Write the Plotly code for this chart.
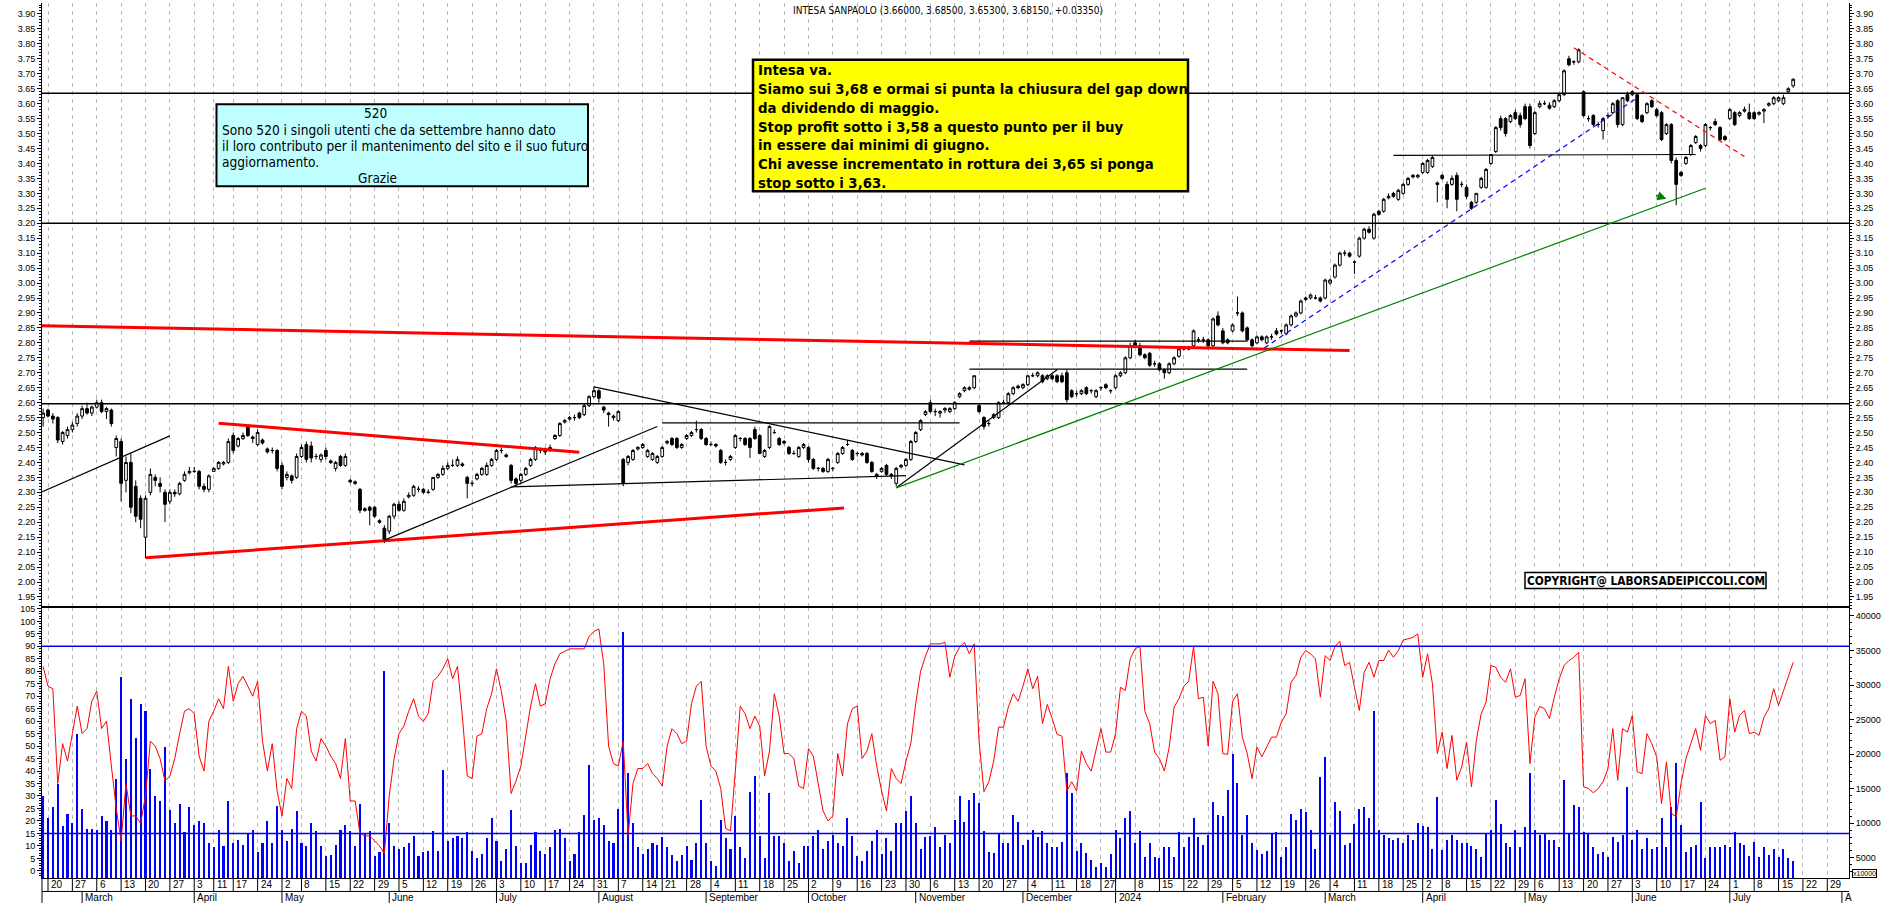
import pandas as pd
import plotly.graph_objects as go

TITLE = "INTESA SANPAOLO (3.66000, 3.68500, 3.65300, 3.68150, +0.03350)"

holidays = ["2023-04-07", "2023-04-10", "2023-05-01", "2023-08-15", "2023-12-25",
            "2023-12-26", "2024-01-01", "2024-03-29", "2024-04-01", "2024-05-01"]
sessions = [d for d in pd.bdate_range("2023-02-17", "2024-08-02")
            if d.strftime("%Y-%m-%d") not in holidays]

opens = [
    2.55, 2.575, 2.555, 2.55, 2.47, 2.49, 2.51, 2.53, 2.555, 2.58,
    2.565, 2.585, 2.60, 2.57, 2.575, 2.45, 2.47, 2.34, 2.40, 2.32,
    2.28, 2.15, 2.30, 2.35, 2.33, 2.30, 2.27, 2.30, 2.295, 2.34,
    2.365, 2.37, 2.37, 2.32, 2.31, 2.37, 2.38, 2.395, 2.40, 2.49,
    2.455, 2.48, 2.52, 2.485, 2.46, 2.475, 2.445, 2.44, 2.44, 2.39,
    2.35, 2.355, 2.35, 2.42, 2.46, 2.455, 2.42, 2.41, 2.44, 2.405,
    2.38, 2.42, 2.39, 2.34, 2.335, 2.31, 2.245, 2.25, 2.25, 2.205,
    2.18, 2.17, 2.22, 2.26, 2.24, 2.285, 2.29, 2.31, 2.31, 2.30,
    2.31, 2.35, 2.36, 2.38, 2.39, 2.39, 2.395, 2.35, 2.33, 2.345,
    2.36, 2.36, 2.39, 2.41, 2.44, 2.425, 2.39, 2.345, 2.34, 2.36,
    2.39, 2.41, 2.44, 2.44, 2.44, 2.48, 2.49, 2.535, 2.545, 2.55,
    2.565, 2.56, 2.59, 2.62, 2.64, 2.585, 2.565, 2.555, 2.54, 2.41,
    2.40, 2.41, 2.445, 2.45, 2.42, 2.41, 2.40, 2.42, 2.465, 2.48,
    2.48, 2.45, 2.48, 2.49, 2.51, 2.51, 2.48, 2.46, 2.46, 2.44,
    2.40, 2.41, 2.45, 2.48, 2.48, 2.48, 2.51, 2.49, 2.42, 2.45,
    2.50, 2.48, 2.47, 2.45, 2.43, 2.42, 2.45, 2.45, 2.41, 2.38,
    2.38, 2.37, 2.38, 2.40, 2.43, 2.46, 2.44, 2.43, 2.43, 2.43,
    2.40, 2.36, 2.37, 2.39, 2.36, 2.33, 2.385, 2.39, 2.41, 2.47,
    2.51, 2.56, 2.60, 2.57, 2.565, 2.575, 2.57, 2.58, 2.62, 2.64,
    2.645, 2.65, 2.59, 2.55, 2.53, 2.55, 2.55, 2.60, 2.60, 2.63,
    2.655, 2.65, 2.66, 2.69, 2.69, 2.69, 2.68, 2.69, 2.69, 2.69,
    2.70, 2.64, 2.63, 2.63, 2.65, 2.64, 2.62, 2.65, 2.66, 2.64,
    2.65, 2.69, 2.70, 2.75, 2.80, 2.79, 2.76, 2.765, 2.73, 2.73,
    2.71, 2.70, 2.73, 2.755, 2.78, 2.78, 2.79, 2.81, 2.81, 2.81,
    2.79, 2.89, 2.84, 2.81, 2.84, 2.90, 2.90, 2.85, 2.81, 2.80,
    2.82, 2.80, 2.82, 2.84, 2.84, 2.83, 2.86, 2.89, 2.90, 2.945,
    2.95, 2.95, 2.95, 2.95, 3.00, 3.02, 3.06, 3.10, 3.10, 3.07,
    3.09, 3.15, 3.18, 3.15, 3.24, 3.24, 3.285, 3.30, 3.28, 3.30,
    3.33, 3.36, 3.355, 3.37, 3.37, 3.39, 3.335, 3.36, 3.33, 3.33,
    3.36, 3.33, 3.32, 3.27, 3.27, 3.32, 3.32, 3.40, 3.44, 3.55,
    3.55, 3.54, 3.57, 3.56, 3.59, 3.59, 3.50, 3.59, 3.60, 3.595,
    3.59, 3.61, 3.63, 3.75, 3.74, 3.74, 3.64, 3.55, 3.56, 3.53,
    3.51, 3.56, 3.57, 3.61, 3.53, 3.63, 3.63, 3.63, 3.56, 3.57,
    3.61, 3.58, 3.57, 3.50, 3.53, 3.41, 3.37, 3.40, 3.43, 3.47,
    3.46, 3.46, 3.52, 3.54, 3.52, 3.49, 3.55, 3.57, 3.56, 3.575,
    3.57, 3.57, 3.565, 3.575, 3.595, 3.60, 3.61, 3.60, 3.64, 3.66,
]
highs = [
    2.58, 2.58, 2.565, 2.555, 2.505, 2.52, 2.535, 2.565, 2.59, 2.60,
    2.59, 2.61, 2.61, 2.585, 2.58, 2.49, 2.48, 2.42, 2.43, 2.34,
    2.29, 2.29, 2.38, 2.36, 2.35, 2.31, 2.31, 2.31, 2.335, 2.37,
    2.385, 2.385, 2.375, 2.33, 2.36, 2.385, 2.405, 2.405, 2.48, 2.50,
    2.485, 2.50, 2.525, 2.49, 2.51, 2.48, 2.45, 2.45, 2.445, 2.40,
    2.37, 2.36, 2.43, 2.46, 2.47, 2.47, 2.43, 2.43, 2.45, 2.41,
    2.405, 2.425, 2.43, 2.345, 2.34, 2.315, 2.25, 2.255, 2.255, 2.21,
    2.19, 2.225, 2.265, 2.27, 2.28, 2.30, 2.325, 2.32, 2.315, 2.31,
    2.35, 2.365, 2.39, 2.40, 2.41, 2.42, 2.40, 2.355, 2.34, 2.365,
    2.385, 2.40, 2.415, 2.445, 2.45, 2.43, 2.395, 2.35, 2.365, 2.385,
    2.415, 2.455, 2.45, 2.45, 2.46, 2.495, 2.535, 2.545, 2.555, 2.56,
    2.57, 2.595, 2.625, 2.655, 2.645, 2.59, 2.57, 2.56, 2.575, 2.415,
    2.425, 2.445, 2.455, 2.465, 2.445, 2.435, 2.425, 2.455, 2.475, 2.485,
    2.485, 2.465, 2.495, 2.505, 2.54, 2.515, 2.485, 2.47, 2.465, 2.445,
    2.41, 2.425, 2.495, 2.485, 2.485, 2.485, 2.52, 2.495, 2.445, 2.525,
    2.51, 2.485, 2.475, 2.455, 2.44, 2.455, 2.465, 2.455, 2.415, 2.385,
    2.385, 2.415, 2.385, 2.435, 2.455, 2.475, 2.445, 2.435, 2.435, 2.435,
    2.405, 2.365, 2.385, 2.395, 2.365, 2.385, 2.395, 2.415, 2.475, 2.505,
    2.545, 2.575, 2.61, 2.58, 2.575, 2.585, 2.585, 2.605, 2.635, 2.655,
    2.655, 2.69, 2.595, 2.555, 2.54, 2.565, 2.605, 2.61, 2.635, 2.655,
    2.66, 2.665, 2.69, 2.70, 2.705, 2.695, 2.695, 2.695, 2.695, 2.70,
    2.71, 2.645, 2.64, 2.645, 2.655, 2.645, 2.645, 2.655, 2.665, 2.645,
    2.695, 2.705, 2.755, 2.80, 2.81, 2.80, 2.765, 2.77, 2.74, 2.735,
    2.715, 2.735, 2.755, 2.785, 2.79, 2.79, 2.845, 2.82, 2.82, 2.815,
    2.885, 2.905, 2.85, 2.815, 2.865, 2.955, 2.905, 2.855, 2.815, 2.825,
    2.825, 2.825, 2.83, 2.85, 2.845, 2.865, 2.895, 2.905, 2.945, 2.955,
    2.965, 2.96, 2.955, 3.015, 3.015, 3.065, 3.105, 3.11, 3.105, 3.075,
    3.155, 3.185, 3.19, 3.235, 3.245, 3.285, 3.30, 3.305, 3.315, 3.335,
    3.355, 3.365, 3.365, 3.405, 3.415, 3.425, 3.34, 3.365, 3.34, 3.36,
    3.37, 3.34, 3.33, 3.275, 3.30, 3.355, 3.385, 3.43, 3.525, 3.56,
    3.555, 3.565, 3.58, 3.57, 3.60, 3.60, 3.575, 3.61, 3.61, 3.605,
    3.615, 3.635, 3.715, 3.76, 3.745, 3.785, 3.645, 3.56, 3.565, 3.54,
    3.555, 3.57, 3.605, 3.615, 3.62, 3.64, 3.645, 3.635, 3.565, 3.605,
    3.615, 3.585, 3.575, 3.535, 3.535, 3.42, 3.375, 3.425, 3.465, 3.495,
    3.465, 3.535, 3.525, 3.55, 3.525, 3.495, 3.585, 3.575, 3.575, 3.59,
    3.60, 3.575, 3.575, 3.585, 3.605, 3.625, 3.625, 3.63, 3.655, 3.685,
]
lows = [
    2.52, 2.55, 2.53, 2.465, 2.46, 2.48, 2.50, 2.52, 2.545, 2.56,
    2.555, 2.58, 2.565, 2.545, 2.52, 2.42, 2.27, 2.30, 2.23, 2.20,
    2.18, 2.08, 2.29, 2.32, 2.30, 2.20, 2.26, 2.285, 2.29, 2.335,
    2.36, 2.365, 2.31, 2.30, 2.30, 2.37, 2.375, 2.39, 2.395, 2.43,
    2.45, 2.475, 2.485, 2.465, 2.455, 2.46, 2.43, 2.43, 2.37, 2.31,
    2.34, 2.33, 2.345, 2.415, 2.40, 2.40, 2.41, 2.40, 2.41, 2.395,
    2.37, 2.385, 2.385, 2.33, 2.325, 2.23, 2.235, 2.19, 2.215, 2.195,
    2.13, 2.16, 2.21, 2.235, 2.235, 2.28, 2.285, 2.30, 2.295, 2.295,
    2.305, 2.345, 2.355, 2.375, 2.385, 2.385, 2.385, 2.28, 2.32, 2.34,
    2.355, 2.355, 2.385, 2.405, 2.43, 2.415, 2.33, 2.32, 2.33, 2.355,
    2.385, 2.405, 2.43, 2.425, 2.435, 2.475, 2.485, 2.53, 2.54, 2.54,
    2.545, 2.555, 2.585, 2.615, 2.60, 2.565, 2.52, 2.54, 2.535, 2.32,
    2.39, 2.405, 2.44, 2.445, 2.415, 2.405, 2.395, 2.415, 2.46, 2.455,
    2.445, 2.445, 2.475, 2.485, 2.50, 2.475, 2.455, 2.455, 2.45, 2.395,
    2.39, 2.405, 2.445, 2.47, 2.455, 2.415, 2.475, 2.43, 2.415, 2.445,
    2.495, 2.455, 2.46, 2.425, 2.425, 2.415, 2.445, 2.40, 2.375, 2.37,
    2.365, 2.365, 2.37, 2.395, 2.425, 2.455, 2.405, 2.42, 2.42, 2.395,
    2.365, 2.345, 2.365, 2.355, 2.345, 2.32, 2.38, 2.385, 2.405, 2.465,
    2.505, 2.555, 2.565, 2.555, 2.55, 2.565, 2.565, 2.575, 2.615, 2.635,
    2.64, 2.645, 2.565, 2.51, 2.52, 2.545, 2.545, 2.595, 2.595, 2.625,
    2.645, 2.645, 2.655, 2.685, 2.685, 2.665, 2.675, 2.675, 2.665, 2.665,
    2.60, 2.615, 2.62, 2.625, 2.625, 2.63, 2.615, 2.64, 2.645, 2.63,
    2.645, 2.685, 2.695, 2.745, 2.785, 2.755, 2.745, 2.72, 2.72, 2.705,
    2.68, 2.695, 2.725, 2.75, 2.775, 2.775, 2.785, 2.80, 2.80, 2.785,
    2.78, 2.855, 2.795, 2.795, 2.835, 2.89, 2.835, 2.805, 2.785, 2.795,
    2.805, 2.795, 2.81, 2.825, 2.83, 2.825, 2.855, 2.885, 2.895, 2.94,
    2.945, 2.945, 2.935, 2.945, 2.995, 3.015, 3.055, 3.09, 3.085, 3.03,
    3.085, 3.145, 3.165, 3.145, 3.225, 3.235, 3.28, 3.285, 3.275, 3.295,
    3.325, 3.35, 3.35, 3.365, 3.365, 3.385, 3.27, 3.345, 3.25, 3.325,
    3.24, 3.32, 3.28, 3.245, 3.265, 3.315, 3.315, 3.395, 3.435, 3.51,
    3.49, 3.535, 3.545, 3.52, 3.545, 3.45, 3.495, 3.585, 3.595, 3.58,
    3.585, 3.605, 3.625, 3.725, 3.73, 3.735, 3.555, 3.54, 3.525, 3.52,
    3.48, 3.55, 3.565, 3.52, 3.525, 3.605, 3.625, 3.545, 3.535, 3.565,
    3.585, 3.555, 3.475, 3.495, 3.40, 3.26, 3.355, 3.395, 3.425, 3.465,
    3.44, 3.455, 3.51, 3.525, 3.475, 3.475, 3.545, 3.525, 3.555, 3.57,
    3.545, 3.545, 3.56, 3.535, 3.59, 3.595, 3.605, 3.595, 3.635, 3.653,
]
closes = [
    2.565, 2.555, 2.545, 2.475, 2.50, 2.51, 2.525, 2.555, 2.58, 2.565,
    2.585, 2.60, 2.57, 2.58, 2.53, 2.48, 2.33, 2.40, 2.25, 2.22,
    2.21, 2.28, 2.36, 2.34, 2.32, 2.26, 2.30, 2.295, 2.33, 2.36,
    2.37, 2.37, 2.32, 2.31, 2.355, 2.38, 2.40, 2.40, 2.47, 2.44,
    2.48, 2.49, 2.49, 2.48, 2.50, 2.465, 2.435, 2.44, 2.38, 2.32,
    2.36, 2.34, 2.42, 2.45, 2.41, 2.415, 2.42, 2.425, 2.42, 2.40,
    2.40, 2.39, 2.42, 2.335, 2.33, 2.24, 2.24, 2.24, 2.22, 2.20,
    2.14, 2.22, 2.26, 2.24, 2.27, 2.29, 2.32, 2.31, 2.30, 2.30,
    2.35, 2.36, 2.38, 2.39, 2.39, 2.41, 2.39, 2.33, 2.33, 2.36,
    2.38, 2.39, 2.41, 2.44, 2.44, 2.42, 2.34, 2.33, 2.36, 2.38,
    2.41, 2.45, 2.44, 2.435, 2.45, 2.49, 2.53, 2.54, 2.55, 2.55,
    2.55, 2.59, 2.62, 2.64, 2.615, 2.575, 2.56, 2.55, 2.57, 2.33,
    2.42, 2.44, 2.45, 2.46, 2.44, 2.43, 2.42, 2.45, 2.47, 2.46,
    2.45, 2.46, 2.49, 2.50, 2.51, 2.48, 2.46, 2.46, 2.455, 2.40,
    2.40, 2.42, 2.49, 2.48, 2.46, 2.45, 2.48, 2.43, 2.44, 2.52,
    2.50, 2.46, 2.465, 2.43, 2.43, 2.45, 2.46, 2.41, 2.38, 2.38,
    2.37, 2.41, 2.38, 2.43, 2.45, 2.46, 2.41, 2.43, 2.425, 2.40,
    2.37, 2.355, 2.38, 2.36, 2.355, 2.38, 2.39, 2.41, 2.47, 2.50,
    2.54, 2.57, 2.57, 2.57, 2.57, 2.58, 2.58, 2.60, 2.63, 2.65,
    2.65, 2.69, 2.57, 2.52, 2.53, 2.56, 2.60, 2.60, 2.63, 2.65,
    2.65, 2.66, 2.69, 2.69, 2.70, 2.67, 2.69, 2.68, 2.67, 2.67,
    2.61, 2.62, 2.63, 2.64, 2.63, 2.64, 2.64, 2.65, 2.65, 2.64,
    2.69, 2.70, 2.75, 2.79, 2.79, 2.76, 2.75, 2.725, 2.73, 2.71,
    2.70, 2.73, 2.75, 2.78, 2.78, 2.78, 2.84, 2.81, 2.81, 2.79,
    2.88, 2.86, 2.80, 2.80, 2.86, 2.90, 2.84, 2.81, 2.79, 2.82,
    2.81, 2.82, 2.82, 2.83, 2.84, 2.86, 2.89, 2.90, 2.94, 2.95,
    2.96, 2.95, 2.94, 3.01, 3.01, 3.06, 3.10, 3.10, 3.09, 3.07,
    3.15, 3.18, 3.17, 3.23, 3.23, 3.28, 3.29, 3.29, 3.31, 3.33,
    3.35, 3.355, 3.36, 3.40, 3.41, 3.42, 3.33, 3.35, 3.28, 3.35,
    3.28, 3.33, 3.29, 3.25, 3.30, 3.35, 3.38, 3.43, 3.52, 3.52,
    3.50, 3.56, 3.55, 3.53, 3.55, 3.46, 3.57, 3.60, 3.60, 3.585,
    3.61, 3.63, 3.71, 3.73, 3.74, 3.78, 3.56, 3.55, 3.53, 3.53,
    3.55, 3.56, 3.60, 3.53, 3.62, 3.61, 3.64, 3.55, 3.54, 3.60,
    3.59, 3.56, 3.48, 3.53, 3.41, 3.33, 3.36, 3.42, 3.46, 3.49,
    3.45, 3.53, 3.52, 3.53, 3.48, 3.48, 3.58, 3.53, 3.57, 3.58,
    3.55, 3.55, 3.57, 3.58, 3.60, 3.62, 3.62, 3.62, 3.65, 3.6815,
]
oscillator = [
    82, 74, 73, 35, 51, 44, 55, 66, 55, 57,
    68, 72, 57, 60, 42, 25, 12, 35, 22, 22,
    19, 30, 52, 50, 45, 36, 38, 45, 55, 64,
    65, 63, 46, 40, 60, 64, 69, 65, 82, 68,
    75, 78, 74, 70, 76, 52, 40, 51, 32, 22,
    37, 33, 57, 64, 62, 48, 44, 53, 50, 46,
    43, 37, 53, 28, 28, 15, 14, 14, 12, 10,
    7, 30, 45, 55, 58, 64, 69, 62, 60, 63,
    76, 78, 81, 85, 77, 82, 62, 38, 37, 54,
    55, 65, 71, 81, 72, 60, 31, 36, 42, 55,
    66, 75, 66, 67, 77, 83, 87, 88, 89, 89,
    89, 89, 94, 96, 97, 83, 50, 43, 42, 52,
    14, 35, 41, 41, 43, 39, 37, 34, 50, 57,
    55, 51, 52, 67, 74, 76, 50, 42, 40, 33,
    17, 16, 40, 66, 63, 57, 62, 58, 38, 48,
    71, 62, 47, 47, 45, 34, 33, 49, 46, 35,
    24, 20, 22, 47, 38, 59, 65, 66, 45, 48,
    55, 42, 32, 24, 41, 37, 35, 44, 51, 67,
    80, 86, 91, 91, 91, 91.6, 77.6, 86, 89.6, 91.6,
    87, 91, 52, 31.7, 35.7, 44, 57.6, 57.6, 65.6, 71,
    68, 74, 81, 73, 78, 59, 66.7, 61, 54.7, 54,
    32, 35.7, 32, 48, 43, 40, 49, 57, 47.6, 47.6,
    55, 73.6, 72.3, 85, 89, 90, 64, 59, 47.6, 45,
    40, 49.6, 65.6, 69, 74, 76, 90, 69, 69.6, 50,
    76, 71, 47, 46.7, 68, 71, 53.6, 47, 37, 49.6,
    45.7, 49.6, 53.6, 53.6, 59.6, 63, 75.6, 78.3, 85.6, 88.3,
    87, 85, 69.6, 86.3, 84.3, 90, 92, 82.3, 83.6, 73.6,
    64.3, 79.6, 83.6, 77.6, 84.3, 84.3, 88.5, 85.6, 88.3, 92.5,
    93, 93.6, 95, 77.6, 87, 75, 47, 55.6, 41, 54.3,
    36.3, 41.7, 51.6, 33.7, 52.3, 63, 67.6, 82.3, 81.6, 77.6,
    75.6, 81, 69.6, 70.3, 77, 43, 61.6, 65.9, 65, 61,
    69.6, 77, 82.3, 84.3, 85.6, 87.6, 33.7, 33, 31.3, 33,
    35.7, 41, 57, 36.3, 57, 55.6, 62.3, 39.7, 39, 55,
    51, 45.7, 27, 43.7, 23, 21.7, 35, 45, 51, 57,
    48.3, 62.3, 59, 60.3, 44.3, 45.7, 69, 55.6, 62.3, 64.3,
    55, 55.6, 54.3, 61.6, 65, 73, 66.3, 72.3, 78.3, 83.6,
]
volume = [
    13900, 10700, 12300, 15700, 9600, 11400, 10000, 22900, 12100, 9200,
    9200, 9000, 11000, 10300, 9000, 16400, 31200, 19300, 28000, 22400,
    27300, 26200, 17900, 13900, 13200, 21100, 11900, 10100, 12800, 8700,
    12300, 9800, 10300, 10000, 7100, 6500, 9000, 6700, 13200, 7200,
    7600, 6900, 8500, 9000, 5800, 7200, 10300, 7100, 12500, 9000,
    7400, 9200, 11800, 7100, 6700, 10000, 8900, 6700, 5300, 5400,
    6900, 9000, 9800, 8900, 6700, 12800, 8500, 8900, 5300, 5800,
    32000, 10000, 6700, 6300, 6500, 7100, 8100, 5300, 5800, 6000,
    8900, 6000, 17700, 7400, 7800, 8100, 7800, 8700, 6000, 4900,
    5600, 7800, 10700, 7400, 4600, 6200, 11900, 6700, 4200, 4200,
    6900, 8700, 6000, 5600, 6500, 9000, 9200, 7800, 4600, 5600,
    8700, 11200, 18400, 10500, 10700, 9800, 7400, 7100, 12100, 37700,
    17200, 10000, 6500, 5600, 6200, 7200, 6900, 8000, 6500, 5400,
    4600, 5400, 6700, 4700, 7100, 13400, 7200, 4600, 3800, 10500,
    7800, 6200, 11000, 6500, 4900, 14500, 16800, 8100, 4900, 14300,
    8100, 8100, 7100, 4600, 6000, 4200, 6700, 6700, 8100, 9000,
    6300, 7400, 8300, 7200, 6700, 10700, 8100, 5300, 4600, 6000,
    7400, 9000, 5600, 7800, 6000, 10000, 10000, 11800, 13900, 10000,
    6300, 8000, 8100, 9500, 6600, 8300, 7200, 10400, 14000, 10200,
    13400, 14400, 12900, 8900, 5800, 5700, 8500, 7200, 7100, 11200,
    10200, 6800, 7600, 9000, 8000, 8900, 7100, 6600, 6500, 7300,
    17300, 14400, 6000, 7100, 5700, 4700, 3700, 4200, 3700, 5600,
    9000, 7900, 10800, 11700, 7100, 8900, 5100, 7100, 5100, 4900,
    6500, 6500, 5100, 8800, 6500, 8000, 10700, 8000, 6800, 8300,
    13100, 11200, 11000, 14800, 20000, 15800, 8300, 11200, 7100, 6100,
    5600, 6000, 8500, 8700, 5100, 6600, 11400, 10500, 12000, 11600,
    9000, 6300, 16700, 19600, 8300, 13100, 11800, 6800, 7200, 9900,
    12000, 12300, 10700, 26200, 9000, 8300, 7800, 7600, 7800, 7100,
    8300, 7500, 10000, 9600, 9400, 6300, 13800, 6100, 7600, 8300,
    7500, 7100, 7100, 6700, 6300, 5100, 8500, 9000, 13400, 9900,
    7100, 6500, 9000, 6600, 9500, 17200, 9000, 8300, 8500, 7500,
    7500, 6600, 16200, 8500, 12600, 12400, 8800, 8500, 6600, 5600,
    5900, 5100, 8000, 7300, 8300, 15200, 7500, 9000, 6300, 7900,
    6200, 6600, 10700, 6600, 12400, 18700, 9700, 5900, 6500, 6800,
    13100, 4900, 6600, 6500, 6600, 6800, 6500, 8800, 7100, 6800,
    5200, 7300, 5100, 6500, 5400, 6300, 5100, 6300, 4900, 4500,
]

# drawn studies: (start session, start price, end session, end price)
red_trends = [(-0.3, 2.857, 268, 2.774), (21.1, 2.081, 164.3, 2.248), (36, 2.531, 110, 2.434)]
black_trends = [(-0.3, 2.301, 26, 2.489), (70, 2.14, 126, 2.52), (96, 2.318, 177, 2.356),
                (127, 2.532, 188, 2.532), (113, 2.653, 189, 2.392), (175, 2.315, 208, 2.71),
                (190, 2.712, 247, 2.712), (190, 2.806, 247, 2.806), (277, 3.427, 339, 3.43)]
green_trend = (175, 2.315, 341, 3.317)
blue_dashed = (250.5, 2.783, 327, 3.62)
red_dashed = (314, 3.787, 349, 3.423)
green_arrow = (333, 3.282)
price_levels = [3.635, 3.20, 2.596]
osc_levels = [90, 15]

yellow_lines = ["Intesa va.",
                "Siamo sui 3,68 e ormai si punta la chiusura del gap down",
                "da dividendo di maggio.",
                "Stop profit sotto i 3,58 a questo punto per il buy",
                "in essere dai minimi di giugno.",
                "Chi avesse incrementato in rottura dei 3,65 si ponga",
                "stop sotto i 3,63."]
cyan_head = "520"
cyan_lines = ["Sono 520 i singoli utenti che da settembre hanno dato",
              "il loro contributo per il mantenimento del sito e il suo futuro",
              "aggiornamento."]
cyan_foot = "Grazie"
copyright_text = "COPYRIGHT@ LABORSADEIPICCOLI.COM"
month_names = ["January", "February", "March", "April", "May", "June", "July",
               "August", "September", "October", "November", "December"]

n = len(closes)
assert len(opens) == n and len(highs) == n and len(lows) == n
assert len(oscillator) == n and len(volume) == n, (len(oscillator), len(volume))
idx = list(range(n))

# ---------- geometry ----------
W, H = 1890, 903
ML, MR, MT, MB = 42, 41, 0, 25
PW, PH = W - ML - MR, H - MT - MB
SPLIT = (878 - 606) / PH
NARROW = "Liberation Sans Narrow, Arial Narrow, DejaVu Sans Condensed, sans-serif"
SANS = "Liberation Sans, Arial, sans-serif"


def px(x):
    return (x - ML) / PW


def py(y):
    return (PH + MT - y) / PH


fig = go.Figure()
fig.add_trace(go.Bar(x=idx, y=volume, yaxis="y2", width=0.42,
                     marker=dict(color="#0000FF", line=dict(width=0)),
                     hoverinfo="skip", showlegend=False))
fig.add_trace(go.Scatter(x=idx, y=oscillator, yaxis="y4", mode="lines",
                         line=dict(color="#FF0000", width=1),
                         hoverinfo="skip", showlegend=False))
fig.add_trace(go.Candlestick(x=idx, open=opens, high=highs, low=lows, close=closes,
                             increasing=dict(line=dict(color="black", width=1), fillcolor="white"),
                             decreasing=dict(line=dict(color="black", width=1), fillcolor="black"),
                             whiskerwidth=0, hoverinfo="skip", showlegend=False))
fig.add_trace(go.Scatter(x=idx, y=closes, yaxis="y3", mode="lines", opacity=0,
                         line=dict(width=0), hoverinfo="skip", showlegend=False))

# week starts & month starts
week_starts, month_starts = [], []
for i, d in enumerate(sessions):
    if i > 0 and d.isocalendar()[1] != sessions[i - 1].isocalendar()[1]:
        week_starts.append(i)
    if i > 0 and d.month != sessions[i - 1].month:
        month_starts.append(i)

tick_font = dict(family=SANS, size=9, color="black")
axis_common = dict(showline=True, linecolor="black", linewidth=1, ticks="outside",
                   ticklen=4, tickcolor="black", tickfont=tick_font, showgrid=False,
                   zeroline=False, fixedrange=True)

fig.update_layout(
    width=W, height=H, margin=dict(l=ML, r=MR, t=MT, b=MB),
    paper_bgcolor="white", plot_bgcolor="white", showlegend=False, bargap=0, boxgap=0.2,
    xaxis=dict(domain=[0, 1], anchor="y2", range=[-0.23, 370.45], showticklabels=False,
               tickmode="array", tickvals=week_starts, ticks="", showgrid=True,
               gridcolor="#B8B8B8", griddash="4px,4px", gridwidth=1, zeroline=False,
               showline=True, linecolor="black", linewidth=1,
               rangeslider=dict(visible=False), fixedrange=True),
    yaxis=dict(domain=[SPLIT, 1], anchor="x", side="left", range=[1.9167, 3.9367],
               tickmode="linear", tick0=1.95, dtick=0.05, tickformat=".2f",
               minor=dict(dtick=0.01, tick0=1.95, ticklen=2, ticks="outside", tickcolor="black"),
               **axis_common),
    yaxis3=dict(overlaying="y", anchor="x", side="right", range=[1.9167, 3.9367],
                tickmode="linear", tick0=1.95, dtick=0.05, tickformat=".2f",
                minor=dict(dtick=0.01, tick0=1.95, ticklen=2, ticks="outside", tickcolor="black"),
                **axis_common),
    yaxis2=dict(domain=[0, SPLIT], anchor="x", side="right", range=[2073, 41298],
                tickmode="linear", tick0=5000, dtick=5000, tickformat="d",
                minor=dict(dtick=1000, ticklen=2, ticks="outside", tickcolor="black"),
                **axis_common),
    yaxis4=dict(overlaying="y2", anchor="x", side="left", range=[-2.88, 105.8],
                tickmode="linear", tick0=0, dtick=5,
                minor=dict(dtick=1, ticklen=2, ticks="outside", tickcolor="black"),
                **axis_common),
)

shapes = []
for lv in price_levels:
    shapes.append(dict(type="line", xref="paper", yref="y", x0=0, x1=1, y0=lv, y1=lv,
                       line=dict(color="black", width=1.5)))
for lv in osc_levels:
    shapes.append(dict(type="line", xref="paper", yref="y4", x0=0, x1=1, y0=lv, y1=lv,
                       line=dict(color="#0000FF", width=1.5)))
shapes.append(dict(type="line", xref="paper", yref="paper", x0=0, x1=1, y0=SPLIT, y1=SPLIT,
                   line=dict(color="black", width=2)))
for (a, b, c, d) in red_trends:
    shapes.append(dict(type="line", xref="x", yref="y", x0=a, y0=b, x1=c, y1=d,
                       line=dict(color="#FF0000", width=3)))
for (a, b, c, d) in black_trends:
    shapes.append(dict(type="line", xref="x", yref="y", x0=a, y0=b, x1=c, y1=d,
                       line=dict(color="black", width=1.2)))
a, b, c, d = green_trend
shapes.append(dict(type="line", xref="x", yref="y", x0=a, y0=b, x1=c, y1=d,
                   line=dict(color="#008000", width=1.2)))
a, b, c, d = blue_dashed
shapes.append(dict(type="line", xref="x", yref="y", x0=a, y0=b, x1=c, y1=d,
                   line=dict(color="#0000FF", width=1.2, dash="5px,4px")))
a, b, c, d = red_dashed
shapes.append(dict(type="line", xref="x", yref="y", x0=a, y0=b, x1=c, y1=d,
                   line=dict(color="#FF0000", width=1.2, dash="5px,4px")))

y_row = py(891.5)
shapes.append(dict(type="line", xref="paper", yref="paper", x0=0, x1=1, y0=y_row, y1=y_row,
                   line=dict(color="black", width=1)))
shapes.append(dict(type="line", xref="paper", yref="paper", x0=0, x1=0, y0=0, y1=py(903),
                   line=dict(color="black", width=1)))
for i in week_starts:
    shapes.append(dict(type="line", xref="x", yref="paper", x0=i, x1=i, y0=0, y1=y_row,
                       line=dict(color="black", width=1)))
for i in month_starts:
    shapes.append(dict(type="line", xref="x", yref="paper", x0=i, x1=i, y0=y_row, y1=py(903),
                       line=dict(color="black", width=1)))

shapes.append(dict(type="rect", xref="paper", yref="paper", x0=px(216.5), x1=px(588),
                   y0=py(101.5), y1=py(184), fillcolor="#C0FFFF",
                   line=dict(color="black", width=2)))
shapes.append(dict(type="rect", xref="paper", yref="paper", x0=px(753), x1=px(1188),
                   y0=py(57), y1=py(189), fillcolor="#FFFF00",
                   line=dict(color="black", width=2.5)))
shapes.append(dict(type="rect", xref="paper", yref="paper", x0=px(1525), x1=px(1766),
                   y0=py(571.5), y1=py(587.5), fillcolor="white",
                   line=dict(color="black", width=1.5)))
fig.update_layout(shapes=shapes)

ann = []
for i in week_starts:
    if sessions[i].strftime("%Y-%m-%d") == "2024-01-02":
        continue
    ann.append(dict(x=i, y=py(885), xref="x", yref="paper", text=str(sessions[i].day),
                    showarrow=False, xanchor="left", yanchor="middle", xshift=1,
                    font=dict(family=SANS, size=10, color="black")))
for i in month_starts:
    dd = sessions[i]
    label = str(dd.year) if dd.month == 1 else month_names[dd.month - 1]
    if dd.year == 2024 and dd.month == 8:
        label = "A"
    ann.append(dict(x=i, y=py(897.5), xref="x", yref="paper", text=label,
                    showarrow=False, xanchor="left", yanchor="middle", xshift=1,
                    font=dict(family=SANS, size=10, color="black")))

ann.append(dict(x=px(791), y=py(8), xref="paper", yref="paper", text=TITLE, showarrow=False,
                xanchor="left", yanchor="middle",
                font=dict(family=NARROW, size=10, color="black")))
ys = [67, 86, 105, 123.5, 142, 161, 180]
for t, yy in zip(yellow_lines, ys):
    ann.append(dict(x=px(756), y=py(yy), xref="paper", yref="paper", text="<b>" + t + "</b>",
                    showarrow=False, xanchor="left", yanchor="middle",
                    font=dict(family=NARROW, size=14.8, color="black")))
ann.append(dict(x=px(375), y=py(110.5), xref="paper", yref="paper", text=cyan_head,
                showarrow=False, xanchor="center", yanchor="middle",
                font=dict(family=NARROW, size=13.5, color="black")))
for t, yy in zip(cyan_lines, [127, 143.5, 160]):
    ann.append(dict(x=px(219.5), y=py(yy), xref="paper", yref="paper", text=t,
                    showarrow=False, xanchor="left", yanchor="middle",
                    font=dict(family=NARROW, size=13.6, color="black")))
ann.append(dict(x=px(377), y=py(176), xref="paper", yref="paper", text=cyan_foot,
                showarrow=False, xanchor="center", yanchor="middle",
                font=dict(family=NARROW, size=13.5, color="black")))
ann.append(dict(x=px(1645.5), y=py(579.5), xref="paper", yref="paper",
                text="<b>" + copyright_text + "</b>", showarrow=False,
                xanchor="center", yanchor="middle",
                font=dict(family=NARROW, size=11.8, color="black")))
ann.append(dict(x=px(1852), y=py(873), xref="paper", yref="paper", text="x10000",
                showarrow=False, xanchor="left", yanchor="middle",
                bordercolor="black", borderwidth=1, borderpad=0,
                font=dict(family=SANS, size=7, color="black")))
ax_, ay_ = green_arrow
ann.append(dict(x=ax_, y=ay_, xref="x", yref="y", ax=-12, ay=-4, showarrow=True,
                arrowhead=2, arrowsize=1.2, arrowwidth=1.5, arrowcolor="#008000", text=""))
fig.update_layout(annotations=ann)

fig.write_html("out.html", config=dict(displayModeBar=False, staticPlot=True),
               post_script="document.body.style.margin='0';document.body.style.overflow='hidden';")
